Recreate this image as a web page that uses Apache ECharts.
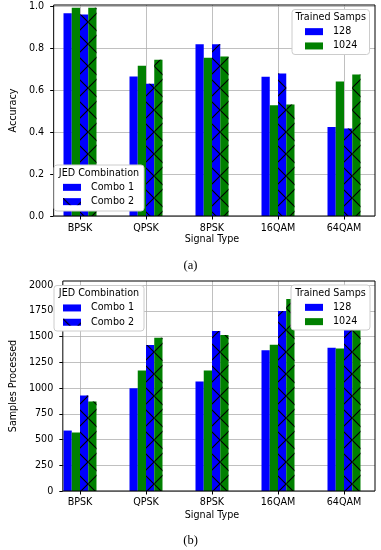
<!DOCTYPE html>
<html><head><meta charset="utf-8">
<script src="https://cdn.jsdelivr.net/npm/echarts@6/dist/echarts.min.js"></script>
<style>html,body{margin:0;padding:0;background:#fff}#c{width:381px;height:550px}</style>
</head><body><div id="c"></div>
<script>
// ---------- data ----------
const categories = ['BPSK', 'QPSK', '8PSK', '16QAM', '64QAM'];
// Accuracy (subplot a)
const accCombo1_128  = [0.968, 0.667, 0.820, 0.665, 0.425];
const accCombo1_1024 = [0.995, 0.718, 0.756, 0.529, 0.643];
const accCombo2_128  = [0.963, 0.632, 0.820, 0.681, 0.418];
const accCombo2_1024 = [0.995, 0.746, 0.762, 0.533, 0.676];
// Samples processed (subplot b)
const smpCombo1_128  = [587, 998, 1063, 1367, 1392];
const smpCombo1_1024 = [568, 1169, 1169, 1421, 1383];
const smpCombo2_128  = [927, 1418, 1554, 1748, 1800];
const smpCombo2_1024 = [869, 1489, 1515, 1864, 1940];
// tick labels
const accTicks = [0, 0.2, 0.4, 0.6, 0.8, 1.0];
const smpTicks = [0, 250, 500, 750, 1000, 1250, 1500, 1750, 2000];
const trainedNames = ['128', '1024'];
const comboNames = ['Combo 1', 'Combo 2'];

// ---------- style ----------
const FONT = 'DejaVu Sans';
const FS = 9.6;
const BLUE = '#0000ff', GREEN = '#008000';
const hatch = {
  symbol: 'path://M0 0L0.8 0L22 21.2L22 22L21.2 22L0 0.8Z M21.2 0L22 0L22 0.8L0.8 22L0 22L0 21.2Z',
  symbolSize: 1, symbolKeepAspect: false,
  color: '#000', backgroundColor: 'rgba(0,0,0,0)',
  dashArrayX: [22, 0], dashArrayY: [22, 0], rotation: 0
};
const gridColor = '#b0b0b0';

const panels = [
  {top: 5, height: 211, max: 1.008, ticks: accTicks, name: 'Accuracy', gap: 24.5, fmt: v => v.toFixed(1),
   series: [accCombo1_128, accCombo1_1024, accCombo2_128, accCombo2_1024], xNameGap: 18.5, xMargin: 7},
  {top: 281, height: 210, max: 2039, ticks: smpTicks, name: 'Samples Processed', gap: 35.5, fmt: v => String(v),
   series: [smpCombo1_128, smpCombo1_1024, smpCombo2_128, smpCombo2_1024], xNameGap: 19.5, xMargin: 6.5}
];

const grid = [], xAxis = [], yAxis = [], series = [];
panels.forEach((p, k) => {
  grid.push({left: 49, width: 326, top: p.top, height: p.height, show: true, borderColor: '#000', borderWidth: 1,
             backgroundColor: 'rgba(0,0,0,0)', z: 3});
  grid.push({left: 47, width: 330, top: p.top, height: p.height, show: false});
  const gf = 2 * k, gb = 2 * k + 1;
  xAxis.push({type: 'value', gridIndex: gf, show: false, min: 0, max: 1});
  yAxis.push({type: 'value', gridIndex: gf, min: 0, max: p.max, interval: p.ticks[1] - p.ticks[0],
    axisLine: {show: false},
    axisTick: {show: true, length: 3.5, lineStyle: {color: '#000', width: 1}, customValues: p.ticks},
    axisLabel: {color: '#000', fontFamily: FONT, fontSize: FS, margin: 9.5, customValues: p.ticks,
                formatter: v => p.ticks.indexOf(v) >= 0 ? p.fmt(v) : ''},
    splitLine: {show: true, lineStyle: {color: gridColor, width: 0.8}},
    name: p.name, nameLocation: 'middle', nameGap: p.gap,
    nameTextStyle: {color: '#000', fontFamily: FONT, fontSize: FS}});
  xAxis.push({type: 'category', gridIndex: gb, data: categories, boundaryGap: true,
    axisLine: {show: false},
    axisTick: {show: true, alignWithLabel: true, length: 3.5, lineStyle: {color: '#000', width: 1}},
    axisLabel: {color: '#000', fontFamily: FONT, fontSize: FS, margin: p.xMargin, interval: 0},
    splitLine: {show: true, alignWithLabel: true, interval: 0, lineStyle: {color: gridColor, width: 0.8}},
    name: 'Signal Type', nameLocation: 'middle', nameGap: p.xNameGap,
    nameTextStyle: {color: '#000', fontFamily: FONT, fontSize: FS}});
  yAxis.push({type: 'value', gridIndex: gb, show: false, min: 0, max: p.max});
  const xi = 2 * k + 1, yi = 2 * k + 1;
  const colors = [BLUE, GREEN, BLUE, GREEN];
  p.series.forEach((d, j) => {
    series.push({name: 'p' + k + 's' + j, type: 'bar', xAxisIndex: xi, yAxisIndex: yi, data: d,
      barWidth: '12.5%', barGap: '0%', silent: true,
      itemStyle: j >= 2 ? {color: colors[j], decal: hatch} : {color: colors[j]}});
  });
});
const legendSeries = [
  {name: '128', color: BLUE}, {name: '1024', color: GREEN},
  {name: 'Combo 1', color: BLUE}, {name: 'Combo 2', color: BLUE, decal: hatch}
];
legendSeries.forEach(s => {
  series.push({name: s.name, type: 'bar', xAxisIndex: 0, yAxisIndex: 0, data: [],
    itemStyle: s.decal ? {color: s.color, decal: s.decal} : {color: s.color}});
});

const legendCommon = {orient: 'vertical', itemWidth: 18, itemHeight: 7, itemGap: 0, icon: 'rect', padding: 0,
  selectedMode: false, z: 4,
  textStyle: {color: '#000', fontFamily: FONT, fontSize: FS, lineHeight: 14.3, padding: [0, 0, 0, 5]}};
const legend = [
  Object.assign({}, legendCommon, {data: trainedNames, left: 305, top: 24.5}),
  Object.assign({}, legendCommon, {data: comboNames, left: 63, top: 180.2}),
  Object.assign({}, legendCommon, {data: comboNames, left: 63, top: 300.8}),
  Object.assign({}, legendCommon, {data: trainedNames, left: 305, top: 300.2})
];

function box(x, y, w, h) {
  return {type: 'rect', z: 3, shape: {x: x, y: y, width: w, height: h, r: 3},
          style: {fill: '#fff', stroke: '#cccccc', lineWidth: 1}};
}
function label(t, x, y, font, size) {
  return {type: 'text', z: 5, x: x, y: y,
          style: {text: t, fontFamily: font, fontSize: size, fill: '#000',
                  align: 'center', verticalAlign: 'middle', textAlign: 'center', textVerticalAlign: 'middle'}};
}
const graphic = [
  box(292, 9.5, 77.5, 45), label('Trained Samps', 330.7, 17, FONT, FS),
  box(54, 165, 90, 46), label('JED Combination', 99, 173, FONT, FS),
  box(54, 285.5, 90, 45.5), label('JED Combination', 99, 293, FONT, FS),
  box(291, 285, 79, 45), label('Trained Samps', 330.5, 293, FONT, FS),
  label('(a)', 190.5, 266, 'Liberation Serif', 12.5),
  label('(b)', 190.5, 541, 'Liberation Serif', 12.5)
];

const chart = echarts.init(document.getElementById('c'), null, {renderer: 'canvas'});
chart.setOption({animation: false, grid, xAxis, yAxis, series, legend, graphic});
</script></body></html>
